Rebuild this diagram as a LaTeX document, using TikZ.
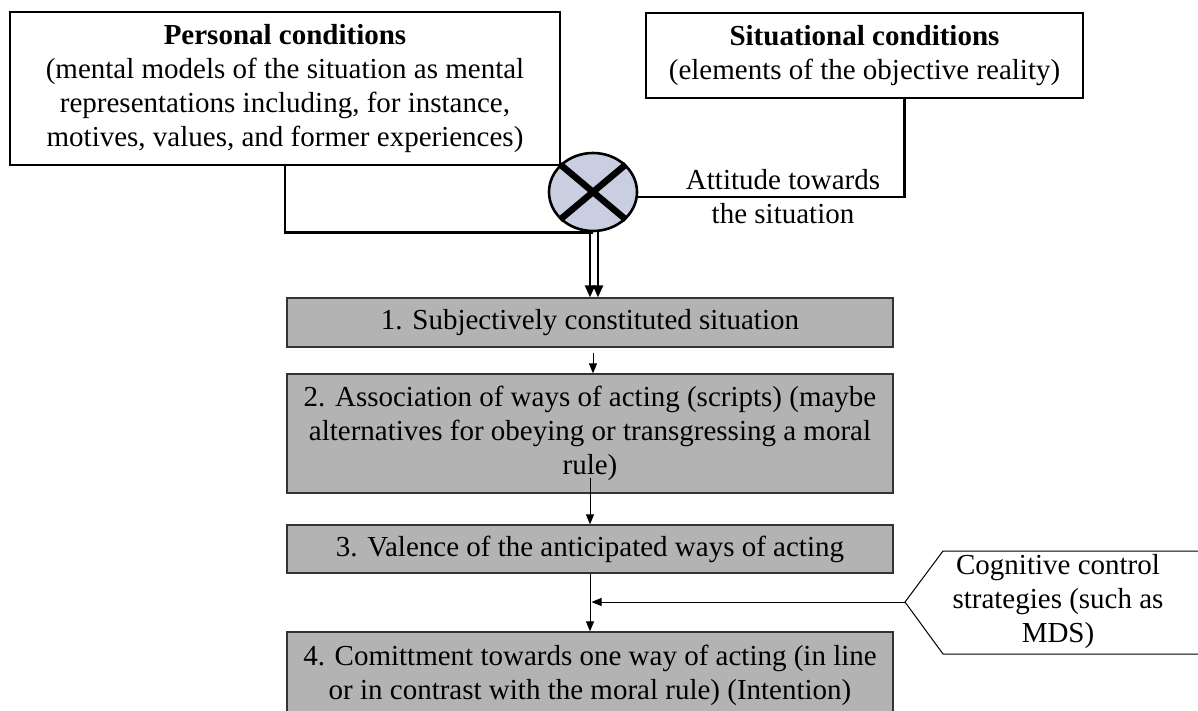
\documentclass[tikz,border=0pt]{standalone}
\usepackage{fontspec}
\setmainfont{Liberation Serif}
\usetikzlibrary{shapes.geometric,arrows.meta}
\definecolor{boxgray}{RGB}{179,179,179}
\definecolor{circfill}{RGB}{201,207,224}
\begin{document}
\begin{tikzpicture}[x=1pt,y=-1pt,
  every node/.style={font=\fontsize{29}{34}\selectfont, inner sep=0pt},
  condbox/.style={draw=black, line width=2.6pt, fill=white, align=center},
  stepbox/.style={draw=black!80, line width=1.3pt, fill=boxgray, align=center, minimum width=606pt},
  thickline/.style={line width=2.6pt},
  arr/.style={line width=1pt, -{Triangle[width=8pt,length=10pt]}},
  dblarr/.style={line width=2.4pt, -{Triangle[width=10pt,length=12pt]}},
]
\clip (0,0) rectangle (1198,711);
\useasboundingbox (0,0) rectangle (1198,711);

\node[condbox, minimum width=550pt, minimum height=153pt] (pers) at (285,88.5)
  {\textbf{Personal conditions}\\(mental models of the situation as mental\\representations including, for instance,\\motives, values, and former experiences)};
\node[condbox, minimum width=437pt, minimum height=85pt] (sit) at (864.5,55.5)
  {\textbf{Situational conditions}\\(elements of the objective reality)};

\node[ellipse, draw=black, line width=2.6pt, fill=circfill, minimum width=88pt, minimum height=78pt] (circ) at (593,192) {};

\draw[thickline] (pers.south) |- (circ.south);
\draw[thickline] ([xshift=40pt]sit.south) |- ([yshift=-5pt]circ.east);
\draw[line width=6.5pt] (circ.140) -- (circ.-40);
\draw[line width=6.5pt] (circ.40) -- (circ.-140);

\node[align=center] (att) at (783,197) {Attitude towards\\the situation};

\node[stepbox, minimum height=49pt] (b1) at (590,322.5) {1. Subjectively constituted situation};
\node[stepbox, minimum height=119pt] (b2) at (590,433.5)
  {2. Association of ways of acting (scripts) (maybe\\alternatives for obeying or transgressing a moral\\rule)};
\node[stepbox, minimum height=48pt] (b3) at (590,549) {3. Valence of the anticipated ways of acting};
\node[stepbox, minimum height=87pt] (b4) at (590,675.5)
  {4. Comittment towards one way of acting (in line\\or in contrast with the moral rule) (Intention)};

\draw[dblarr] ([xshift=-3pt]circ.south) -- ([xshift=-3pt]circ.south |- b1.north);
\draw[dblarr] ([xshift=5pt]circ.south) -- ([xshift=5pt]circ.south |- b1.north);

\draw[arr] ([shift={(3,5)}]b1.south) -- ([xshift=3pt]b2.north);
\draw[arr] ([yshift=16pt]b2.south) -- (b3.north);
\draw[arr] (b3.south) -- (b4.north);

\coordinate (ptip) at (905,602);
\draw[line width=1pt] (1210,551) -- (943,551) -- (ptip) -- (943,654) -- (1210,654);
\node[align=center] (cog) at (1058,602) {Cognitive control\\strategies (such as\\MDS)};
\draw[arr, shorten >=1.5pt] (ptip) -- (b3.south |- ptip);
\end{tikzpicture}
\end{document}
